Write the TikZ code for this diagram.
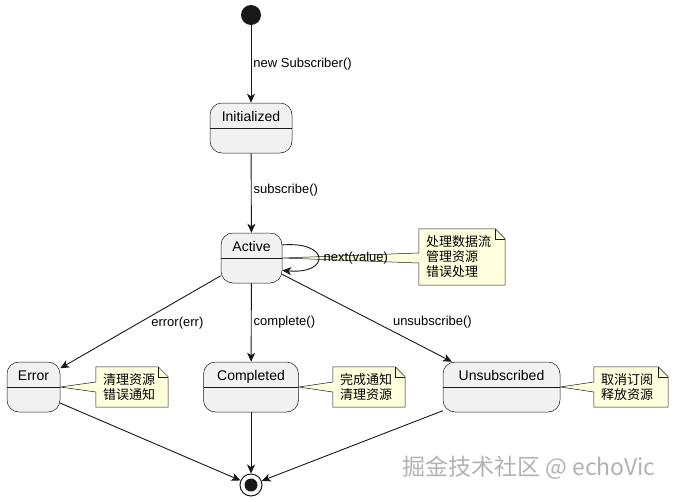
\documentclass[tikz,border=0pt]{standalone}
\usepackage{fontspec}
\setmainfont{Liberation Sans}
\newfontfamily\cjk{Noto Sans CJK SC}
\usetikzlibrary{arrows.meta,backgrounds,calc}
\definecolor{linec}{HTML}{181818}
\definecolor{statec}{HTML}{F1F1F1}
\definecolor{notec}{HTML}{FEFFDD}
% note outline with folded corner and wedge towards #2
\newcommand{\notebody}[2]{\filldraw[fill=notec, draw=linec, line width=0.5pt] (#1.north west) -- ([xshift=-10pt]#1.north east) -- ([yshift=-10pt]#1.north east) -- (#1.south east) -- (#1.south west) -- ($(#1.west |- #2)+(0,5)$) -- (#2) -- ($(#1.west |- #2)+(0,-5)$) -- cycle;
\draw[linec, line width=0.5pt] ([xshift=-10pt]#1.north east) -- ([xshift=-10pt,yshift=-10pt]#1.north east) -- ([yshift=-10pt]#1.north east);}

\begin{document}
\begin{tikzpicture}[x=1pt, y=-1pt, font=\fontsize{13}{15}\selectfont,
  sbox/.style={draw=linec, fill=statec, line width=0.5pt, rounded corners=12pt, minimum width=#1, inner ysep=0pt, text height=18pt, text depth=32pt, font=\fontsize{14}{16}\selectfont, path picture={\draw[linec, line width=0.5pt] (path picture bounding box.west) -- (path picture bounding box.east);}},
  notebox/.style={align=left, text width=#1, inner xsep=7pt, inner ysep=5pt, font=\cjk\fontsize{13}{15}\selectfont},
  trans/.style={draw=linec, line width=0.9pt, -{Stealth[length=9pt, width=8pt, inset=2.5pt]}},
  lab/.style={anchor=west, inner xsep=2pt, text=black}]
\useasboundingbox (0,0) rectangle (675,501);
\node[circle, fill=linec, minimum size=20pt, inner sep=0pt] (start) at (251,15) {};
\node[sbox=82pt] (init) at (251,128) {Initialized}; \node[sbox=61pt] (active) at (251.5,258) {Active};
\node[sbox=53pt] (error) at (33.5,387) {Error}; \node[sbox=95pt] (done) at (251,387) {Completed}; \node[sbox=117pt] (unsub) at (501.5,387) {Unsubscribed};
\node[circle, draw=linec, fill=white, line width=1pt, minimum size=22pt, inner sep=0pt, path picture={\fill[linec] (path picture bounding box.center) circle (6.5pt);}] (stop) at (251,485) {};
\node[notebox=72pt, minimum height=56pt] (nactive) at (462,257) {处理数据流\\管理资源\\错误处理};
\node[notebox=58pt, minimum height=40pt] (nerror) at (132,387) {清理资源\\错误通知};
\node[notebox=58pt, minimum height=40pt] (ndone) at (369,387) {完成通知\\清理资源};
\node[notebox=60pt, minimum height=40pt] (nunsub) at (631,387) {取消订阅\\释放资源};
\begin{pgfonlayer}{background}
\notebody{nactive}{active.east} \notebody{nerror}{error.east} \notebody{ndone}{done.east} \notebody{nunsub}{unsub.east}
\end{pgfonlayer}
\draw[trans] (start) -- (init) node[lab, midway] {new Subscriber()};
\draw[trans] (init) -- (active) node[lab, pos=0.46] {subscribe()};
\draw[trans] (active.23) .. controls +(48,-4) and +(48,4) .. (active.-22) node[lab, pos=0.5, inner xsep=5pt] {next(value)};
\draw[trans] (active.-150) -- (error.35) node[lab, pos=0.51, xshift=10pt] {error(err)};
\draw[trans] (active) -- (done) node[lab, midway] {complete()};
\draw[trans] (active.-28) -- (unsub.153) node[lab, pos=0.55, xshift=15pt] {unsubscribe()};
\draw[trans] (error.-31) -- (stop); \draw[trans] (done) -- (stop); \draw[trans] (unsub.-158.5) -- (stop);
\node[text=gray!60, font=\cjk\fontsize{23}{25}\selectfont] (mark) at (529,468) {掘金技术社区 @ echoVic};
\end{tikzpicture}
\end{document}
